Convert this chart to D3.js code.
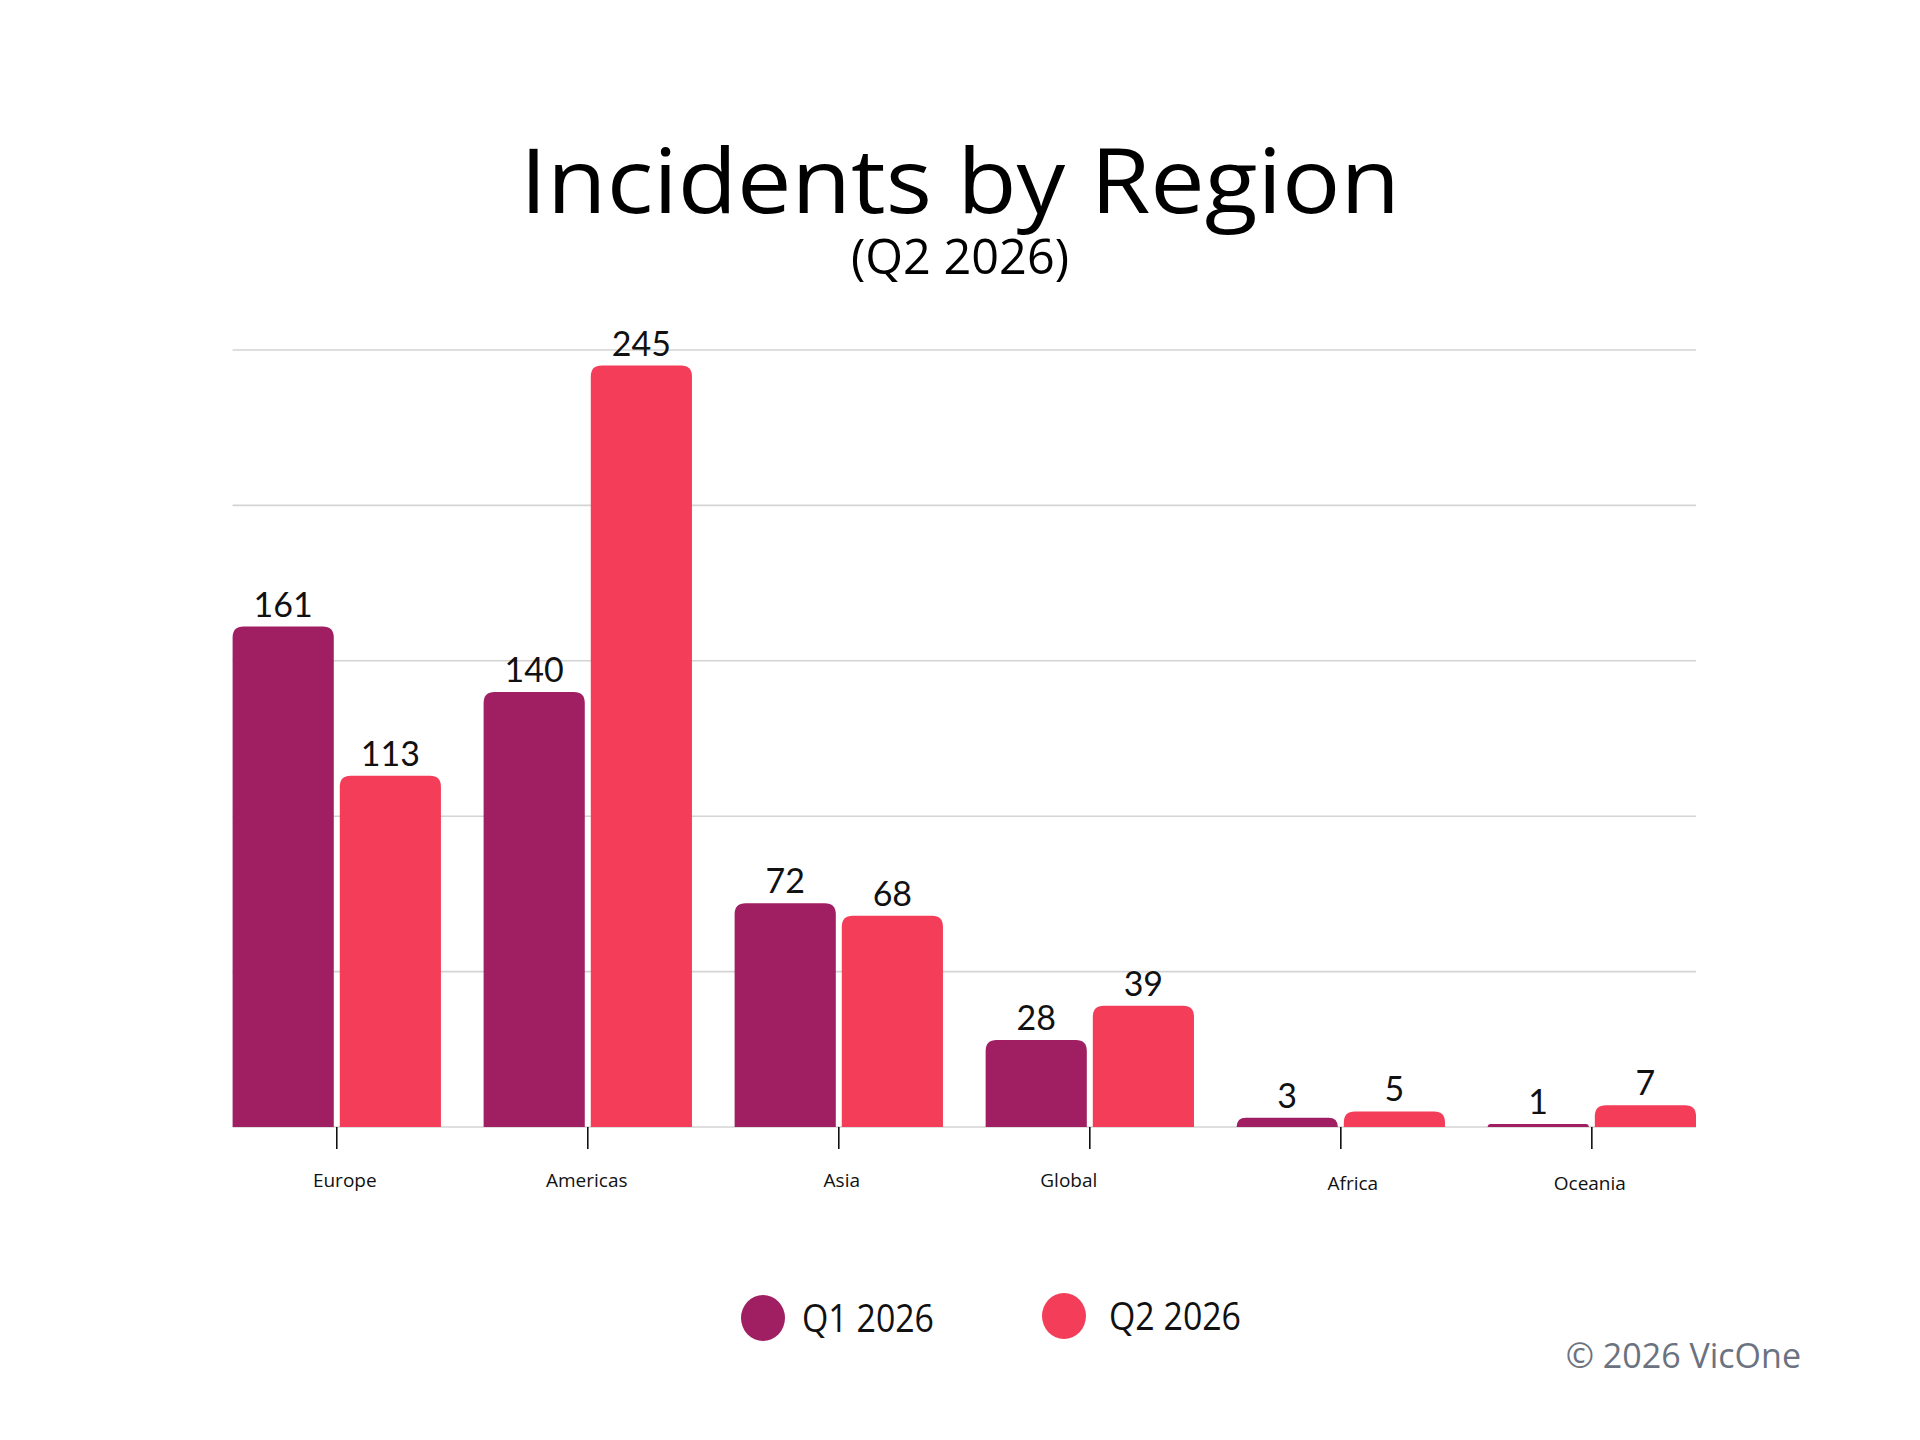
<!DOCTYPE html>
<html>
<head>
<meta charset="utf-8">
<script src="https://cdn.jsdelivr.net/npm/d3@7"></script>
<style>
  html, body { margin: 0; padding: 0; background: #fff; }
  svg { display: block; }
</style>
</head>
<body>
<script>
var regions = ['Europe', 'Americas', 'Asia', 'Global', 'Africa', 'Oceania'];
var seriesNames = ['Q1 2026', 'Q2 2026'];
var q1Values = [161, 140, 72, 28, 3, 1];
var q2Values = [113, 245, 68, 39, 5, 7];
var gridTicks = [0, 50, 100, 150, 200, 250];

var colors = ['#a01e62', '#f43d59'];

var W = 1920, H = 1440;
var svg = d3.select('body').append('svg').attr('width', W).attr('height', H);

// title
svg.append('text')
    .attr('x', 960).attr('y', 213)
    .attr('text-anchor', 'middle')
    .style('font-family', '"Open Sans", sans-serif')
    .style('font-size', '90px')
    .attr('textLength', 880).attr('lengthAdjust', 'spacingAndGlyphs')
    .text('Incidents by Region');
svg.append('text')
    .attr('x', 960).attr('y', 274)
    .attr('text-anchor', 'middle')
    .style('font-family', '"Open Sans", sans-serif')
    .style('font-size', '50px')
    .attr('textLength', 218).attr('lengthAdjust', 'spacingAndGlyphs')
    .text('(Q2 2026)');

var rows = regions.map(function(r, i) {
    return { region: r, values: [q1Values[i], q2Values[i]] };
});

var x0 = d3.scaleBand().domain(regions).range([232.6, 1696]).paddingInner(0.17).paddingOuter(0);
var x1 = d3.scaleBand().domain([0, 1]).range([0, x0.bandwidth()]).paddingInner(0.056);
var y = d3.scaleLinear().domain([0, 250]).range([1127, 350]);

// grid lines
svg.append('g').selectAll('line').data(gridTicks).enter().append('line')
    .attr('x1', 232.6).attr('x2', 1696)
    .attr('y1', function(d) { return y(d); })
    .attr('y2', function(d) { return y(d); })
    .style('stroke', '#d4d4d4')
    .style('stroke-width', 1.6);

function topRounded(x, yTop, w, h, r) {
    r = Math.min(r, h, w / 2);
    var yb = yTop + h;
    return 'M' + x + ',' + yb +
        'L' + x + ',' + (yTop + r) +
        'Q' + x + ',' + yTop + ' ' + (x + r) + ',' + yTop +
        'L' + (x + w - r) + ',' + yTop +
        'Q' + (x + w) + ',' + yTop + ' ' + (x + w) + ',' + (yTop + r) +
        'L' + (x + w) + ',' + yb + 'Z';
}

var groups = svg.append('g').selectAll('g').data(rows).enter().append('g')
    .attr('transform', function(d) { return 'translate(' + x0(d.region) + ',0)'; });

groups.selectAll('path').data(function(d) { return d.values; }).enter().append('path')
    .attr('d', function(v, i) {
        return topRounded(x1(i), y(v), x1.bandwidth(), y(0) - y(v), 11);
    })
    .style('fill', function(v, i) { return colors[i]; });

groups.selectAll('text.val').data(function(d) { return d.values; }).enter().append('text')
    .attr('class', 'val')
    .attr('x', function(v, i) { return x1(i) + x1.bandwidth() / 2; })
    .attr('y', function(v) { return y(v) - 10; })
    .attr('text-anchor', 'middle')
    .style('font-family', 'Lato, sans-serif')
    .style('font-size', '34px')
    .style('fill', '#111')
    .text(function(v) { return v; });

// x axis: ticks at group centres
var labelNudge = [[8, 0], [-1, 0], [3, 0], [-21, 0], [12, 2.5], [-2, 2.5]];
var axis = svg.append('g');
axis.selectAll('line').data(regions).enter().append('line')
    .attr('x1', function(d) { return x0(d) + x0.bandwidth() / 2; })
    .attr('x2', function(d) { return x0(d) + x0.bandwidth() / 2; })
    .attr('y1', 1127).attr('y2', 1149)
    .style('stroke', '#111').style('stroke-width', 1.6);
axis.selectAll('text').data(regions).enter().append('text')
    .attr('x', function(d, i) { return x0(d) + x0.bandwidth() / 2 + labelNudge[i][0]; })
    .attr('y', function(d, i) { return 1187 + labelNudge[i][1]; })
    .attr('text-anchor', 'middle')
    .style('font-family', '"Open Sans", sans-serif')
    .style('font-size', '19px')
    .style('fill', '#111')
    .text(function(d) { return d; });

// legend
var legendX = [763, 1064];
var legendTextX = [39, 45];
var legendY = [1318, 1316];
var legend = svg.append('g').selectAll('g').data(seriesNames).enter().append('g')
    .attr('transform', function(d, i) { return 'translate(' + legendX[i] + ',' + legendY[i] + ')'; });
legend.append('ellipse').attr('rx', 22).attr('ry', 23)
    .style('fill', function(d, i) { return colors[i]; });
legend.append('text')
    .attr('x', function(d, i) { return legendTextX[i]; }).attr('y', 14)
    .style('font-family', '"Open Sans", sans-serif')
    .style('font-size', '38px')
    .attr('textLength', 132).attr('lengthAdjust', 'spacingAndGlyphs')
    .style('fill', '#111')
    .text(function(d) { return d; });

// copyright
svg.append('text')
    .attr('x', 1801).attr('y', 1368)
    .attr('text-anchor', 'end')
    .style('font-family', '"Open Sans", sans-serif')
    .style('font-size', '34px')
    .style('fill', '#6b7280')
    .text('\u00a9 2026 VicOne');
</script>
</body>
</html>
